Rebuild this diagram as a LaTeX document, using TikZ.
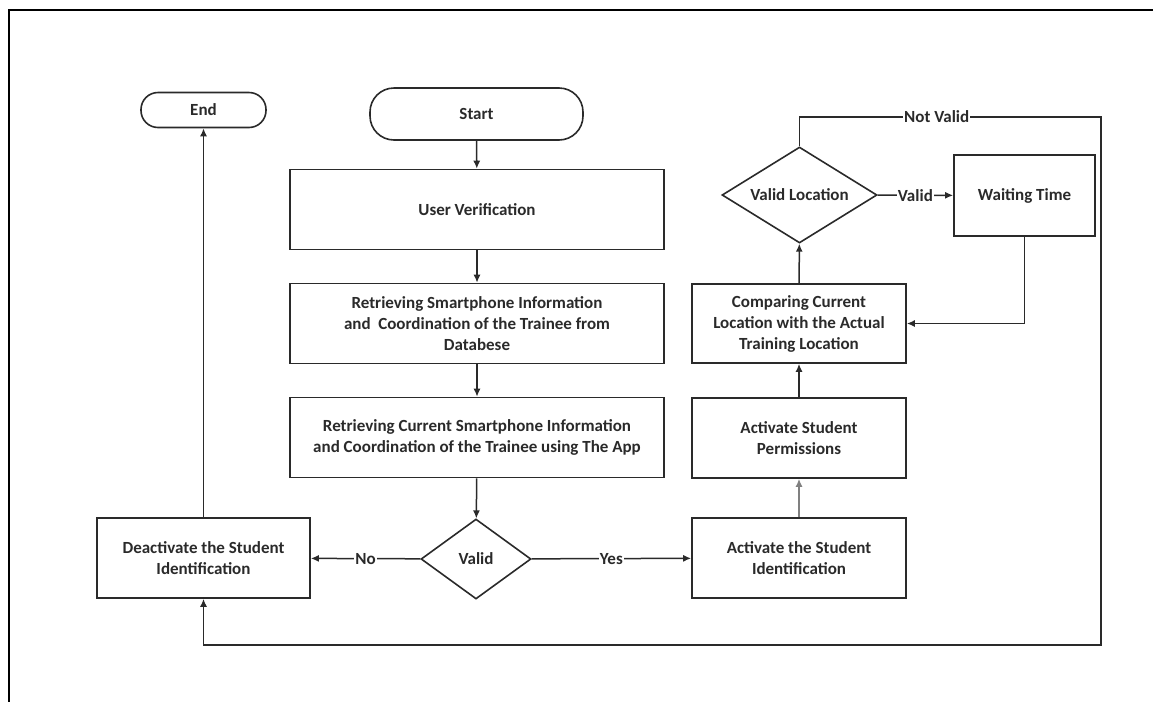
\documentclass[tikz,border=0pt]{standalone}
\usepackage{fontspec}
\setmainfont{Carlito}
\usetikzlibrary{arrows.meta,shapes.geometric}
\definecolor{ink}{HTML}{2A2A2A}
\begin{document}
\begin{tikzpicture}[x=1pt,y=-1pt,
  base/.style={draw=ink, line width=1.6pt, align=center, text=ink,
    font=\fontsize{17}{21}\selectfont\bfseries, inner sep=0pt},
  box/.style={base, rectangle, minimum width=#1, minimum height=80},
  dec/.style={base, diamond},
  arr/.style={draw=ink, line width=1.5pt, -{Latex[length=8pt,width=7pt]}},
  lbl/.style={fill=white, text=ink, font=\fontsize{17}{20}\selectfont\bfseries, inner sep=1pt}
]
\useasboundingbox (0,0) rectangle (1153,702);
% partial frame
\draw[black, line width=2.2pt] (1153,10) -- (9,10) -- (9,702);

% left column
\node[base, rounded corners=24pt, minimum width=213, minimum height=52] (start) at (476.5,114) {Start};
\node[box=374] (uv) at (477,209.5) {User Verification};
\node[box=374] (r1) at (477,323.5) {Retrieving Smartphone Information\\and\ \ Coordination of the Trainee from\\Databese};
\node[box=374] (r2) at (477,437.5) {Retrieving Current Smartphone Information\\and Coordination of the Trainee using The App};
\node[dec, minimum width=110, minimum height=80, aspect=1.375] (valid) at (476,559) {Valid};
\node[box=213] (deact) at (203.5,558) {Deactivate the Student\\Identification};
\node[base, rounded corners=17pt, minimum width=125, minimum height=35] (end) at (203.5,110) {End};

% right column
\node[box=214] (actid) at (799,558) {Activate the Student\\Identification};
\node[box=214] (perm) at (799,438) {Activate Student\\Permissions};
\node[box=214, minimum height=79] (comp) at (799,323.5) {Comparing Current\\Location with the Actual\\Training Location};
\node[dec, minimum width=155, minimum height=96, aspect=1.6] (vloc) at (799.5,195) {Valid Location};
\node[box=141, minimum height=81] (wait) at (1024.5,195.5) {Waiting Time};

\coordinate (nv2) at (1101,117);
\coordinate (nv3) at (1101,645);

% connectors
\draw[arr] (start) -- (uv);
\draw[arr] (uv) -- (r1);
\draw[arr] (r1) -- (r2);
\draw[arr] (r2) -- (valid);
\draw[arr] (valid) -- node[lbl]{No} (deact);
\draw[arr] (valid) -- node[lbl]{Yes} (actid);
\draw[arr] (deact) -- (end);
\draw[arr, draw=gray] (actid) -- (perm);
\draw[arr] (perm) -- (comp);
\draw[arr] (comp) -- (vloc);
\draw[arr] (vloc) -- node[lbl]{Valid} (wait);
\draw[arr] (wait.south) |- (comp.east);
\draw[arr] (vloc.north) -- (vloc.north |- nv2)
  -- node[lbl, pos=0.455]{Not Valid} (nv2) -- (nv3)
  -- (deact.south |- nv3) -- (deact.south);
\end{tikzpicture}
\end{document}
